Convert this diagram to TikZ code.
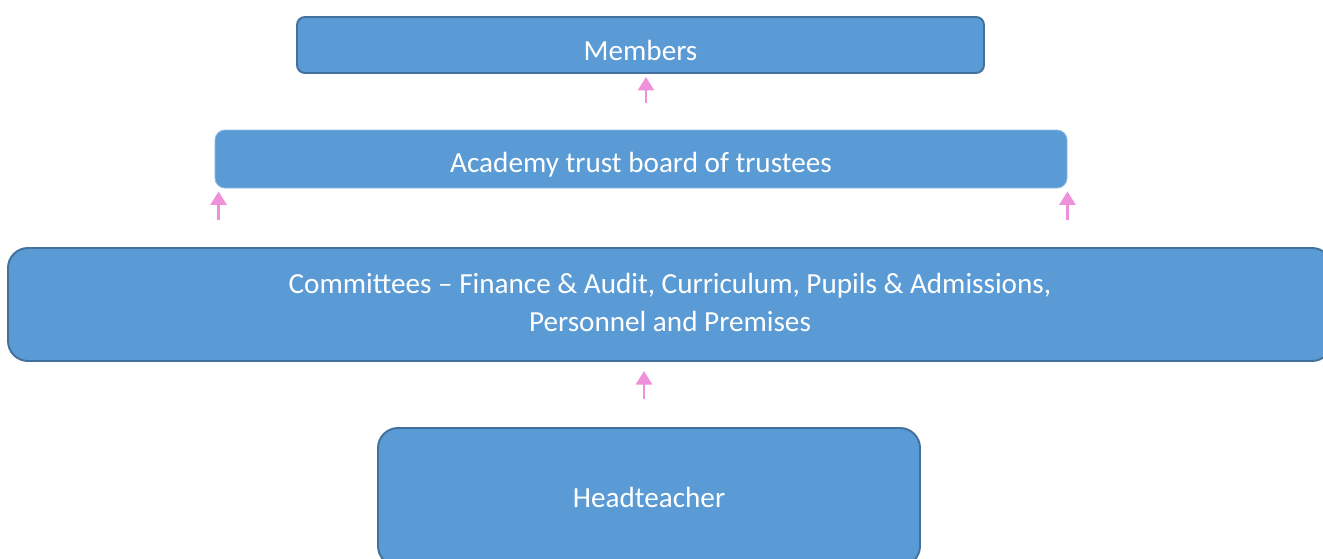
\documentclass[tikz,border=0pt]{standalone}
\usepackage{fontspec}
\setmainfont{Carlito}
\usetikzlibrary{arrows.meta}

\definecolor{boxfill}{RGB}{91,155,213}
\definecolor{boxline}{RGB}{65,113,156}
\definecolor{arrowpink}{RGB}{238,144,218}

\begin{document}
\begin{tikzpicture}
[
	box/.style={rectangle,fill=boxfill,draw=boxline,line width=1.1pt,text=white,
		font=\fontsize{16.6}{22}\selectfont,align=center,inner sep=0pt},
	uparrow/.style={arrowpink,line width=1.6pt,-{Triangle[width=0.32cm,length=0.27cm]}}
]

	% page frame
	\useasboundingbox (0,0) rectangle (26.46,-11.16);
	\clip (0,0) rectangle (26.46,-11.16);

	% boxes
	\node[box,minimum width=13.74cm,minimum height=1.12cm,rounded corners=0.16cm,
		text height=0.6cm,text depth=0pt] (memb) at (12.81,-0.9) {Members};
	\node[box,draw=boxfill!70!white,line width=0.5pt,minimum width=17.04cm,minimum height=1.16cm,
		rounded corners=0.2cm,text height=0.52cm,text depth=0pt] (trust) at (12.82,-3.18) {Academy trust board of trustees};
	\node[box,minimum width=26.48cm,minimum height=2.26cm,rounded corners=0.4cm,
		text depth=0.08cm] (comm) at (13.4,-6.09)
		{Committees -- Finance \& Audit, Curriculum, Pupils \& Admissions,\\Personnel and Premises};
	\node[box,minimum width=10.84cm,minimum height=2.76cm,rounded corners=0.4cm] (head) at (12.98,-9.94) {Headteacher};

	% arrows
	\draw[uparrow] ([xshift=0.11cm,yshift=-0.58cm]memb.south) -- ([xshift=0.11cm,yshift=-0.06cm]memb.south);
	\draw[uparrow] ([xshift=0.08cm,yshift=-0.64cm]trust.south west) -- ([xshift=0.08cm,yshift=-0.06cm]trust.south west);
	\draw[uparrow] ([yshift=-0.64cm]trust.south east) -- ([yshift=-0.06cm]trust.south east);
	\draw[uparrow] ([xshift=-0.1cm,yshift=0.56cm]head.north) -- ([xshift=-0.1cm,yshift=1.12cm]head.north);

\end{tikzpicture}
\end{document}
